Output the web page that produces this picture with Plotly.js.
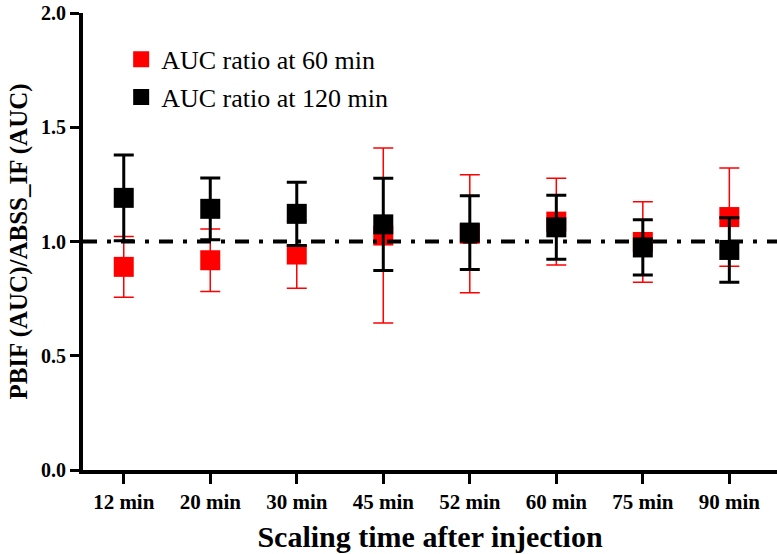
<!DOCTYPE html>
<html>
<head>
<meta charset="utf-8">
<script src="https://cdn.plot.ly/plotly-3.0.1.min.js"></script>
<style>
  html, body { margin: 0; padding: 0; background: #fff; }
  #chart { width: 777px; height: 554px; }
</style>
</head>
<body>
<div id="chart"></div>
<script>
// Data
const categories = ["12 min", "20 min", "30 min", "45 min", "52 min", "60 min", "75 min", "90 min"];
const ratio60 = [0.889, 0.918, 0.943, 1.026, 1.034, 1.087, 0.998, 1.107];
const err60   = [0.133, 0.137, 0.148, 0.383, 0.258, 0.190, 0.176, 0.215];
const ratio120 = [1.191, 1.143, 1.121, 1.075, 1.039, 1.062, 0.974, 0.963];
const err120   = [0.188, 0.135, 0.138, 0.202, 0.161, 0.140, 0.121, 0.141];
const seriesNames = ["AUC ratio at 60 min", "AUC ratio at 120 min"];
const referenceLevel = 1.0;

const serif = "Liberation Serif, Times New Roman, serif";
const xIdx = categories.map((c, i) => i);

const traces = [
  {
    type: "scatter", mode: "markers", name: seriesNames[0],
    x: xIdx, y: ratio60, legendgroup: "a",
    marker: { symbol: "square", size: 20, color: "#ff0000" },
    error_y: { type: "data", array: err60, visible: true, color: "#ff0000", thickness: 1.5, width: 10 }
  },
  {
    type: "scatter", mode: "markers", name: seriesNames[1],
    x: xIdx, y: ratio120, legendgroup: "b",
    marker: { symbol: "square", size: 20, color: "#000000" },
    error_y: { type: "data", array: err120, visible: true, color: "#000000", thickness: 3, width: 10 }
  }
];

const layout = {
  width: 777, height: 554,
  paper_bgcolor: "#fff", plot_bgcolor: "#fff",
  margin: { l: 82.5, r: 0, t: 13, b: 84 },
  font: { family: serif, color: "#000" },
  showlegend: true,
  legend: {
    x: 0.055, y: 0.95, xanchor: "left", yanchor: "top",
    font: { family: serif, size: 26, color: "#000" },
    bgcolor: "rgba(0,0,0,0)", tracegroupgap: 1, traceorder: "grouped"
  },
  xaxis: {
    range: [-0.471, 7.551],
    tickmode: "array", tickvals: xIdx, ticktext: categories,
    showgrid: false, zeroline: false,
    showline: true, linecolor: "#000", linewidth: 4,
    ticks: "outside", ticklen: 10, tickwidth: 3, tickcolor: "#000",
    tickfont: { family: serif, size: 21, weight: "bold", color: "#000" },
    title: { text: "Scaling time after injection", font: { family: serif, size: 30, weight: "bold", color: "#000" }, standoff: 14 }
  },
  yaxis: {
    range: [0, 2], dtick: 0.5, tickformat: ".1f",
    showgrid: false, zeroline: false,
    showline: true, linecolor: "#000", linewidth: 4,
    ticks: "outside", ticklen: 9, tickwidth: 3, tickcolor: "#000",
    tickfont: { family: serif, size: 20, weight: "bold", color: "#000" },
    title: { text: "PBIF (AUC)/ABSS_IF (AUC)", font: { family: serif, size: 25, weight: "bold", color: "#000" }, standoff: 7 }
  },
  shapes: [{
    type: "line", layer: "above", xref: "paper", x0: 0, x1: 1, yref: "y", y0: referenceLevel, y1: referenceLevel,
    line: { color: "#000", width: 4, dash: "14px,10px,4px,10px" }
  }]
};

Plotly.newPlot("chart", traces, layout, { displayModeBar: false, staticPlot: true });
</script>
</body>
</html>
